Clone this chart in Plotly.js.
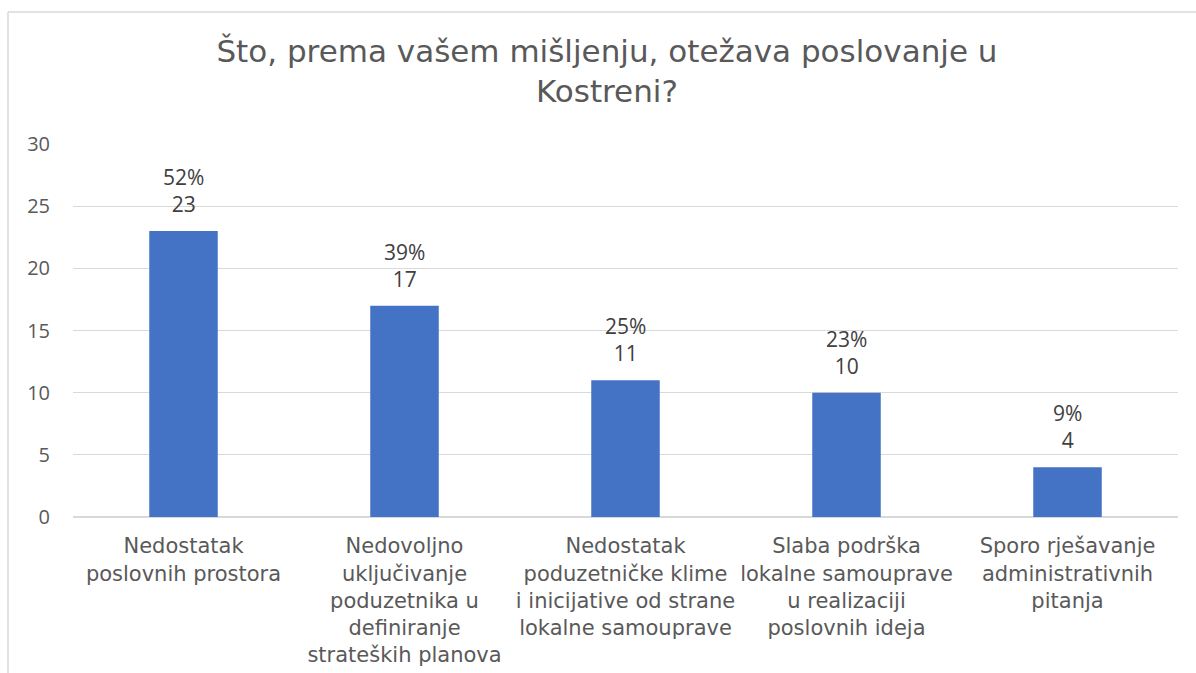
<!DOCTYPE html>
<html>
<head>
<meta charset="utf-8">
<script src="https://cdn.plot.ly/plotly-3.0.1.min.js"></script>
<style>
  html, body { margin: 0; padding: 0; background: #fff; }
  #chart { width: 1196px; height: 673px; }
</style>
</head>
<body>
<div id="chart"></div>
<script>
// ── Data ──────────────────────────────────────────────────────────────────
const categories = [
  'Nedostatak<br>poslovnih prostora',
  'Nedovoljno<br>uključivanje<br>poduzetnika u<br>definiranje<br>strateških planova',
  'Nedostatak<br>poduzetničke klime<br>i inicijative od strane<br>lokalne samouprave',
  'Slaba podrška<br>lokalne samouprave<br>u realizaciji<br>poslovnih ideja',
  'Sporo rješavanje<br>administrativnih<br>pitanja',
];
const counts = [23, 17, 11, 10, 4];
const percents = ['52%', '39%', '25%', '23%', '9%'];
const yTicks = [0, 5, 10, 15, 20, 25, 30];

const GREY = '#595959';
const GRID = '#d9d9d9';
const LABEL_FONT = 'Open Sans, DejaVu Sans, sans-serif';
const CAT_FONT = 'DejaVu Sans, sans-serif';

// ── Chart ─────────────────────────────────────────────────────────────────
const traces = [{
  x: categories, y: counts,
  type: 'bar',
  marker: { color: '#4472c4' },
  width: 0.31,
  hoverinfo: 'skip',
}];

// value labels above bars: percent on top, count below
const labels = categories.map((c, i) => ({
  x: c, y: counts[i], xref: 'x', yref: 'y',
  text: percents[i] + '<br>' + counts[i],
  showarrow: false, yanchor: 'bottom', yshift: 11,
  font: { family: LABEL_FONT, size: 21, color: '#404040' },
}));

const layout = {
  width: 1196, height: 673,
  margin: { l: 73, r: 18, t: 144, b: 156 },
  paper_bgcolor: '#fff', plot_bgcolor: '#fff',
  showlegend: false,
  title: {
    text: 'Što, prema vašem mišljenju, otežava poslovanje u<br>Kostreni?',
    font: { family: CAT_FONT, size: 31, color: GREY },
    xref: 'container', x: 0.5075, xanchor: 'center',
    yref: 'container', y: 1 - 62 / 673, yanchor: 'top',
  },
  xaxis: {
    showgrid: false, zeroline: false, showline: false,
    ticks: 'outside', ticklen: 10, tickcolor: 'rgba(0,0,0,0)',
    tickfont: { family: CAT_FONT, size: 21, color: GREY },
    tickangle: 0,
  },
  yaxis: {
    range: [0, 30], tickvals: yTicks,
    showgrid: true, gridcolor: GRID, gridwidth: 1.3,
    zeroline: true, zerolinecolor: GRID, zerolinewidth: 1.3,
    showline: false,
    ticks: 'outside', ticklen: 18, tickcolor: 'rgba(0,0,0,0)',
    tickfont: { family: LABEL_FONT, size: 20, color: GREY },
  },
  bargap: 0.69,
  annotations: labels,
  shapes: [
    { type: 'line', xref: 'paper', yref: 'paper',
      x0: -65 / 1105, x1: 1.2, y0: 505 / 373, y1: 505 / 373,
      line: { color: '#d9d9d9', width: 1.5 } },
    { type: 'line', xref: 'paper', yref: 'paper',
      x0: -65 / 1105, x1: -65 / 1105, y0: 505 / 373, y1: -1,
      line: { color: '#d9d9d9', width: 1.5 } },
  ],
};

Plotly.newPlot('chart', traces, layout, { staticPlot: true, displayModeBar: false });
</script>
</body>
</html>
